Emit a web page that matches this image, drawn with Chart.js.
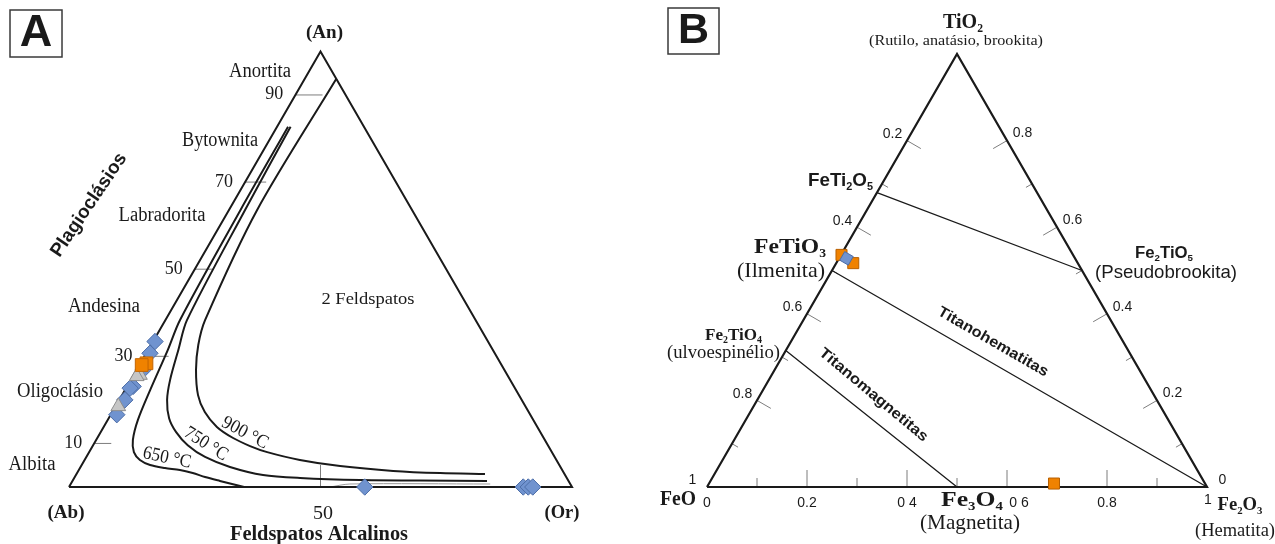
<!DOCTYPE html>
<html lang="pt">
<head>
<meta charset="utf-8">
<title>Diagramas ternários</title>
<script src="https://cdn.jsdelivr.net/npm/chart.js@4.4.1/dist/chart.umd.min.js"></script>
<style>
  html, body { margin: 0; padding: 0; background: #fff; }
  #wrap { position: relative; width: 1275px; height: 544px; overflow: hidden; background: #fff; }
  #ca { position: absolute; left: 0; top: 0; }
  #cb { position: absolute; left: 637px; top: 0; }
</style>
</head>
<body>
<div id="wrap">
  <canvas id="ca" width="637" height="544"></canvas>
  <canvas id="cb" width="638" height="544"></canvas>
</div>
<script>
// ---------------- Panel A: feldspars, compositions as [Or %, An %] (Ab = rest) ----------------
const aCurve650 = [[2.2,82.7],[2.3,63.6],[2.9,38.3],[3.9,31.5],[5.0,22.3],[6.0,15.4],[7.3,10.8],[8.9,8.0],[11.0,6.2],[13.6,5.05],[16.9,4.36],[20.1,3.9],[23.0,3.2],[25.9,2.3],[29.3,1.4],[33.9,0.23],[34.8,0]];
const aCurve750 = [[2.7,82.7],[3.2,63.6],[4.3,38.3],[6.0,31.5],[7.8,24.6],[9.5,20.0],[12.0,15.8],[15.0,12.6],[18.8,9.6],[23.6,6.9],[29.7,4.6],[37.2,2.75],[44.9,2.07],[57.1,1.6],[69.0,1.5],[82.4,1.4]];
const aCurve900 = [[6.3,93.7],[5.6,63.6],[7.9,38.3],[9.4,32.6],[11.8,26.9],[15.1,21.1],[18.4,17.2],[22.5,13.8],[27.0,11.25],[31.3,9.4],[35.4,8.0],[42.8,6.2],[51.5,4.8],[62.6,3.7],[72.2,3.2],[81.2,3.0]];
const aCurveOr   = [[51.9,0],[55.5,0.69],[83.4,0.69]];
const aCorners   = [[0,0],[100,0],[0,100]];           // Ab, Or, An
const aPlagioclase = [[0.4,33.4],[0.75,30.7],[1.3,26.9],[1.2,23.1],[0.8,22.7],[1.1,20.0],[1.2,16.6]];
const aAlkaliFsp   = [[58.8,0],[90.3,0],[91.3,0],[92.2,0]];
const aGroupGray   = [[1.25,25.7],[0.76,25.4],[0.55,18.5]];
const aGroupOrange = [[1.2,28.4],[0.45,28.0]];
const aTickValues  = [10, 30, 50, 70, 90];
const aTickLabels  = ['10', '30', '50', '70', '90'];
const aBaseTick    = 50;
const aBaseTickLabel = '50';

// ---------------- Panel B: Fe–Ti oxides, compositions as [Fe2O3, TiO2] (FeO = rest) ----------------
const bCorners = [[0,0],[1,0],[0,1]];                  // FeO, Fe2O3, TiO2
const bJoins = [
  [[0,0.68],[0.5,0.5]],     // FeTi2O5 – Fe2TiO5
  [[0,0.5],[1,0]],          // FeTiO3 – Fe2O3
  [[0,0.315],[0.5,0]]       // Fe2TiO4 – Fe3O4
];
const bOrange = [[0.001,0.536],[0.034,0.517],[0.69,0.008]];
const bBlue   = [[0.015,0.528]];
const bLeftTicks  = [0.2,0.3,0.4,0.5,0.6,0.7,0.8,0.9];  // FeO
const bRightTicks = [0.1,0.2,0.3,0.4,0.5,0.6,0.7,0.8];  // TiO2
const bBaseTicks  = [0.1,0.2,0.3,0.4,0.5,0.6,0.7,0.8,0.9]; // Fe2O3
const bLeftLabelAt  = [0.2,0.4,0.6,0.8,1];
const bLeftLabels   = ['0.2','0.4','0.6','0.8','1'];
const bRightLabelAt = [0.8,0.6,0.4,0.2,0];
const bRightLabels  = ['0.8','0.6','0.4','0.2','0'];
const bBaseLabelAt  = [0,0.2,0.4,0.6,0.8,1];
const bBaseLabels   = ['0','0.2','0 4','0 6','0.8','1'];

// ---------------- drawing helpers ----------------
const SERIF = "'Liberation Serif', 'Times New Roman', serif";
const SANS  = "'Liberation Sans', Arial, sans-serif";
const INK = '#1a1a1a';
const TICK = '#7d7d7d';
const H = Math.sqrt(3) / 2;
const GAP = { x: NaN, y: NaN };

// ternary -> cartesian for each panel
const tA = ([or, an]) => ({ x: or + an / 2, y: an * H });
const tB = ([f, t]) => ({ x: f + t / 2, y: t * H });

function line(data, opts) {
  return Object.assign({ data, showLine: true, pointRadius: 0, pointHoverRadius: 0, fill: false,
    borderColor: INK, borderWidth: 2, tension: 0, clip: false, order: 10, borderJoinStyle: 'miter' }, opts);
}
function marks(data, opts) {
  return Object.assign({ data, showLine: false, clip: false, order: 1, borderWidth: 1, pointHoverRadius: 0 }, opts);
}

function parseRich(s) {
  const out = []; const re = /_(\d)/g; let last = 0, m;
  while ((m = re.exec(s))) {
    if (m.index > last) out.push({ t: s.slice(last, m.index), sub: false });
    out.push({ t: m[1], sub: true });
    last = re.lastIndex;
  }
  if (last < s.length) out.push({ t: s.slice(last), sub: false });
  return out;
}

function drawLabel(chart, L) {
  const { ctx, scales } = chart;
  const px = scales.x.getPixelForValue(L.x) + (L.dx || 0);
  const py = scales.y.getPixelForValue(L.y) + (L.dy || 0);
  const fam = L.sans ? SANS : SERIF;
  const fnt = (s) => (L.bold ? 'bold ' : '') + s + 'px ' + fam;
  ctx.save();
  ctx.translate(px, py);
  if (L.rot) ctx.rotate(L.rot * Math.PI / 180);
  if (L.box) {
    ctx.lineWidth = 1.5; ctx.strokeStyle = '#3a3a3a';
    ctx.strokeRect(-L.box[0] / 2, -L.box[1] / 2, L.box[0], L.box[1]);
  }
  const segs = parseRich(L.text);
  let total = 0;
  segs.forEach(s => { ctx.font = fnt(s.sub ? L.size * 0.58 : L.size); s.w = ctx.measureText(s.t).width; total += s.w; });
  const sx = L.w ? L.w / total : 1;
  ctx.scale(sx, 1);
  ctx.textBaseline = 'middle';
  ctx.textAlign = 'left';
  ctx.fillStyle = L.color || INK;
  let cx = -total / 2;
  segs.forEach(s => {
    ctx.font = fnt(s.sub ? L.size * 0.58 : L.size);
    ctx.fillText(s.t, cx, s.sub ? L.size * 0.3 : 0);
    cx += s.w;
  });
  ctx.restore();
}

function textLayer(id, labels) {
  return { id, afterDatasetsDraw(chart) { labels.forEach(L => drawLabel(chart, L)); } };
}

function baseOptions(xmin, xmax, ymin, ymax) {
  return {
    responsive: false, animation: false, events: [],
    layout: { padding: 0, autoPadding: false },
    plugins: { legend: { display: false }, tooltip: { enabled: false } },
    scales: {
      x: { type: 'linear', display: false, min: xmin, max: xmax },
      y: { type: 'linear', display: false, min: ymin, max: ymax }
    }
  };
}

// ---------------- Panel A chart ----------------
(function () {
  const tri = [...aCorners, aCorners[0]].map(tA);
  const ticks = [];
  const tickLen = [3.4, 4.8, 3.6, 4.2, 5.4];
  aTickValues.forEach((v, i) => { const p = tA([0, v]); ticks.push(p, { x: p.x + tickLen[i], y: p.y }, GAP); });
  const b = tA([aBaseTick, 0]);
  ticks.push(b, { x: b.x, y: 4.37 }, GAP);

  const labels = [
    { text: 'A', x: -6.56, y: 90.16, size: 45, bold: true, sans: true, box: [52, 47] },
    { text: '(An)', x: 50.8, y: 90.26, size: 19, bold: true, w: 37 },
    { text: 'Anortita', x: 37.97, y: 82.5, size: 20, w: 62 },
    { text: 'Bytownita', x: 30.02, y: 68.79, size: 20, w: 76 },
    { text: 'Labradorita', x: 18.49, y: 53.88, size: 20, w: 87 },
    { text: 'Andesina', x: 6.96, y: 35.79, size: 20, w: 72 },
    { text: 'Oligoclásio', x: -1.79, y: 18.89, size: 20, w: 86 },
    { text: 'Albita', x: -7.36, y: 4.37, size: 20, w: 47 },
    { text: '(Ab)', x: -0.6, y: -5.17, size: 19, bold: true, w: 37 },
    { text: '(Or)', x: 98.01, y: -5.17, size: 19, bold: true, w: 35 },
    { text: 'Feldspatos Alcalinos', x: 49.7, y: -9.54, size: 21, bold: true, w: 178 },
    { text: '2 Feldspatos', x: 59.44, y: 37.18, size: 17, w: 93 },
    { text: 'Plagioclásios', x: 3.98, y: 56.06, size: 19, bold: true, sans: true, rot: -56, w: 121 },
    { text: '650 °C', x: 19.48, y: 5.77, size: 19, rot: 12, w: 49 },
    { text: '750 °C', x: 27.24, y: 8.55, size: 19, rot: 32, w: 48 },
    { text: '900 °C', x: 34.99, y: 10.74, size: 19, rot: 28, w: 50 }
  ];
  aTickValues.forEach((v, i) => {
    const p = tA([0, v]);
    labels.push({ text: aTickLabels[i], x: p.x, y: p.y, dx: -21, dy: -0.5, size: 19, w: 18 });
  });
  labels.push({ text: aBaseTickLabel, x: b.x, y: b.y, dx: 2.5, dy: 27, size: 19, w: 20 });

  new Chart(document.getElementById('ca'), {
    type: 'scatter',
    data: {
      datasets: [
        line(tri, { borderWidth: 2 }),
        line(aCurve900.map(tA), { tension: 0.3 }),
        line(aCurve750.map(tA), { tension: 0.3 }),
        line(aCurve650.map(tA), { tension: 0.3 }),
        line(aCurveOr.map(tA), { borderColor: '#9a9a9a', borderWidth: 1, tension: 0.3 }),
        line(ticks, { borderColor: TICK, borderWidth: 1, order: 11 }),
        marks(aPlagioclase.map(tA), { pointStyle: 'rectRot', pointRadius: 8.2, backgroundColor: '#7093cf', borderColor: '#4d6ea8', order: 4 }),
        marks(aAlkaliFsp.map(tA), { pointStyle: 'rectRot', pointRadius: 8.2, backgroundColor: '#7093cf', borderColor: '#4d6ea8', order: 4 }),
        marks(aGroupGray.map(tA), { pointStyle: 'triangle', pointRadius: 8.5, backgroundColor: '#c6c6c6', borderColor: '#8c8c8c', order: 3 }),
        marks(aGroupOrange.map(tA), { pointStyle: 'rect', pointRadius: 9, backgroundColor: '#f08200', borderColor: '#c46500', order: 2 })
      ]
    },
    options: baseOptions(-13.718, 112.92, -11.33, 96.82),
    plugins: [textLayer('aText', labels)]
  });
})();

// ---------------- Panel B chart ----------------
(function () {
  const tri = [...bCorners, bCorners[0]].map(tB);
  const joins = [];
  bJoins.forEach(j => joins.push(tB(j[0]), tB(j[1]), GAP));

  const ticks = [];
  const len = (v) => (Math.round(v * 10) % 2 === 0 ? 0.032 : 0.014);
  bLeftTicks.forEach(v => { const p = tB([0, 1 - v]); const l = len(v); ticks.push(p, { x: p.x + 0.866 * l, y: p.y - 0.5 * l }, GAP); });
  bRightTicks.forEach(v => { const p = tB([1 - v, v]); const l = len(v); ticks.push(p, { x: p.x - 0.866 * l, y: p.y - 0.5 * l }, GAP); });
  bBaseTicks.forEach(v => { const p = tB([v, 0]); const l = Math.round(v * 10) % 2 === 0 ? 0.034 : 0.018; ticks.push(p, { x: p.x, y: l }, GAP); });

  const labels = [
    { text: 'B', x: -0.027, y: 0.912, size: 43, bold: true, sans: true, box: [51, 46] },
    { text: 'TiO_2', x: 0.512, y: 0.928, size: 21, bold: true, w: 40 },
    { text: '(Rutilo, anatásio, brookita)', x: 0.498, y: 0.892, size: 15, w: 174 },
    { text: 'FeTi_2O_5', x: 0.267, y: 0.611, size: 18, bold: true, sans: true, w: 65 },
    { text: 'FeTiO_3', x: 0.166, y: 0.478, size: 21, bold: true, w: 72 },
    { text: '(Ilmenita)', x: 0.148, y: 0.432, size: 21, w: 88 },
    { text: 'Fe_2TiO_4', x: 0.053, y: 0.303, size: 17, bold: true, w: 57 },
    { text: '(ulvoespinélio)', x: 0.033, y: 0.267, size: 19, w: 113 },
    { text: 'FeO', x: -0.058, y: -0.026, size: 21, bold: true, w: 36 },
    { text: 'Fe_3O_4', x: 0.53, y: -0.028, size: 21, bold: true, w: 62 },
    { text: '(Magnetita)', x: 0.526, y: -0.072, size: 21, w: 100 },
    { text: 'Fe_2O_3', x: 1.066, y: -0.036, size: 19, bold: true, w: 45 },
    { text: '(Hematita)', x: 1.056, y: -0.088, size: 19, w: 80 },
    { text: 'Fe_2TiO_5', x: 0.914, y: 0.466, size: 16, bold: true, sans: true, w: 58 },
    { text: '(Pseudobrookita)', x: 0.918, y: 0.429, size: 19, sans: true, w: 142 },
    { text: 'Titanohematitas', x: 0.572, y: 0.29, size: 15, bold: true, sans: true, rot: 30, w: 125 },
    { text: 'Titanomagnetitas', x: 0.333, y: 0.184, size: 15, bold: true, sans: true, rot: 40, w: 137 }
  ];
  bLeftLabelAt.forEach((v, i) => { const p = tB([0, 1 - v]); labels.push({ text: bLeftLabels[i], x: p.x, y: p.y, dx: -14.5, dy: -6.5, size: 14, sans: true }); });
  bRightLabelAt.forEach((v, i) => { const p = tB([1 - v, v]); labels.push({ text: bRightLabels[i], x: p.x, y: p.y, dx: 15.5, dy: -7, size: 14, sans: true }); });
  const baseNudge = { '0 6': [12, 0], '1': [1, -3] };
  bBaseLabelAt.forEach((v, i) => {
    const p = tB([v, 0]); const n = baseNudge[bBaseLabels[i]] || [0, 0];
    labels.push({ text: bBaseLabels[i], x: p.x, y: p.y, dx: n[0], dy: 16 + n[1], size: 14, sans: true });
  });

  new Chart(document.getElementById('cb'), {
    type: 'scatter',
    data: {
      datasets: [
        line(tri, { borderWidth: 2.2 }),
        line(joins, { borderWidth: 1.3 }),
        line(ticks, { borderColor: TICK, borderWidth: 1, order: 11 }),
        marks(bOrange.map(tB), { pointStyle: 'rect', pointRadius: 7.8, backgroundColor: '#f08200', borderColor: '#b86000', order: 3 }),
        marks(bBlue.map(tB), { pointStyle: 'rect', pointRotation: 30, pointRadius: 7, backgroundColor: '#7093cf', borderColor: '#4d6ea8', order: 2 })
      ]
    },
    options: baseOptions(-0.14, 1.136, -0.114, 0.974),
    plugins: [textLayer('bText', labels)]
  });
})();
</script>
</body>
</html>
